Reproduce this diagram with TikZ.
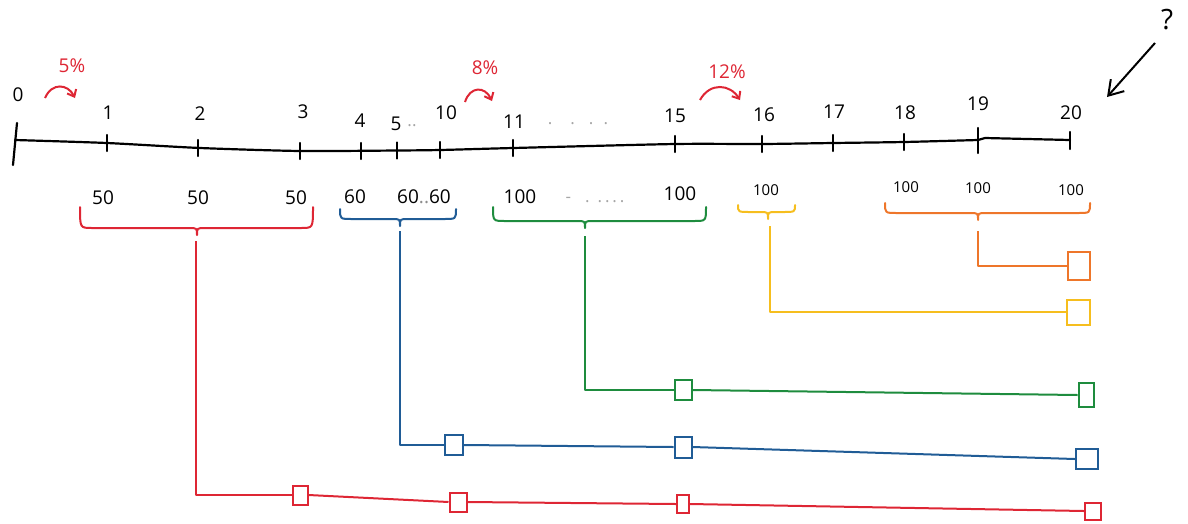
\documentclass[tikz,border=0pt]{standalone}
\usepackage{fontspec}
\setmainfont{Open Sans}
\usetikzlibrary{arrows.meta}
\definecolor{cred}{RGB}{222,38,52}
\definecolor{cblue}{RGB}{32,92,150}
\definecolor{cgreen}{RGB}{30,140,62}
\definecolor{cyellow}{RGB}{246,190,30}
\definecolor{corange}{RGB}{238,118,42}
\newcommand\myhbrace[6]{%
  \draw[#1,line width=2pt,line cap=round,line join=round]
    (#2,#4) .. controls (#2,#5) .. ({#2+12},#5) -- ({#6-8},#5)
    .. controls (#6,#5) .. (#6,{#5+7}) .. controls (#6,#5) .. ({#6+8},#5)
    -- ({#3-12},#5) .. controls (#3,#5) .. (#3,#4);}
\tikzset{
  lbl/.style={font=\fontsize{19}{22}\selectfont, inner sep=0pt},
  sml/.style={font=\fontsize{15}{18}\selectfont, inner sep=0pt},
  pct/.style={font=\fontsize{19}{22}\selectfont, text=cred, inner sep=0pt},
  faint/.style={font=\fontsize{17}{20}\selectfont, text=black!35, inner sep=0pt},
  tl/.style={line width=2.2pt, line cap=round, line join=round},
  conn/.style={line width=2pt, line join=round},
  boxn/.style={draw=#1, line width=2pt, rectangle, inner sep=0pt, fill=white},
  curv/.style={cred, line width=2pt, -{Straight Barb[length=6pt,width=10pt]}},
}
\begin{document}
\begin{tikzpicture}[x=1pt,y=-1pt]
\useasboundingbox (0,0) rectangle (1188,523);

% timeline
\draw[tl] plot[smooth,tension=0.4] coordinates {(15,140) (107,143) (200,148) (300,151) (397,150.5) (440,150) (513,148) (675,144) (762,144) (833,143) (904,142) (978,140)}
  -- (985,138) -- (1070,140);
\draw[tl] (17,123) -- (13,165);
\foreach \x/\y in {107/143,198/148,300/151,361/151,397/150.5,440/150,513/148,675/144,762/144,833/143,904/142}
  \draw[tl] (\x,{\y-8}) -- (\x,{\y+8});
\draw[tl] (978,128) -- (978,153);
\draw[tl] (1070,132) -- (1070,149);

% tick labels
\node[lbl] (t0) at (18,95) {0};
\node[lbl] (t1) at (108,113) {1};
\node[lbl] (t2) at (200,114) {2};
\node[lbl] (t3) at (303,112) {3};
\node[lbl] (t4) at (360,121) {4};
\node[lbl] (t5) at (396,124) {5};
\node[faint] (t5d) at (412,126) {..};
\node[lbl] (t10) at (446,113) {10};
\node[lbl] (t11) at (514,122) {11};
\node[faint] (tdots) at (578,124) {.\hspace{18pt}.\hspace{14pt}.\hspace{10pt}.};
\node[lbl] (t15) at (675,116) {15};
\node[lbl] (t16) at (764,115) {16};
\node[lbl] (t17) at (834,112) {17};
\node[lbl] (t18) at (905,113) {18};
\node[lbl] (t19) at (978,104) {19};
\node[lbl] (t20) at (1071,113) {20};

% percentages
\node[pct] (p5) at (72,66) {5\%};
\draw[curv] (45,98) .. controls (52,82) and (68,84) .. (75,98);
\node[pct] (p8) at (485,68) {8\%};
\draw[curv] (465,102) .. controls (470,86) and (485,86) .. (492,101);
\node[pct] (p12) at (727,72) {12\%};
\draw[curv] (700,100) .. controls (710,82) and (730,84) .. (740,100);

% question mark
\node[font=\fontsize{28}{32}\selectfont, inner sep=0pt] (q) at (1167,20) {?};
\coordinate (qs) at (1155,43);
\coordinate (qe) at (1107,97);
\draw[line width=2pt, -{Straight Barb[length=14pt,width=18pt]}] (qs) -- (qe);

% values
\node[lbl] (v1) at (103,198) {50};
\node[lbl] (v2) at (198,198) {50};
\node[lbl] (v3) at (296,198) {50};
\node[lbl] (v4) at (355,197) {60};
\node[lbl] (v5) at (424,197) {60\textcolor{black!45}{..}60};
\node[lbl] (v6) at (520,197) {100};
\node[faint] (v6d) at (595,200) {-\hspace{14pt}.\hspace{8pt}.\,.\,.\,.};
\node[lbl] (v7) at (680,194) {100};
\node[sml] (v8) at (766,190) {100};
\node[sml] (v9) at (906,187) {100};
\node[sml] (v10) at (978,188) {100};
\node[sml] (v11) at (1071,190) {100};

% braces
\myhbrace{cred}{80}{313}{207}{228}{197}
\myhbrace{cblue}{340}{456}{209}{219}{400}
\myhbrace{cgreen}{493}{706}{207}{221}{585}
\myhbrace{cyellow}{738}{795}{205}{212}{768}
\myhbrace{corange}{885}{1090}{203}{213}{978}

\coordinate (rb) at (196,241);
\coordinate (bb) at (400,231);
\coordinate (gb) at (585,236);
\coordinate (yb) at (770,226);
\coordinate (ob) at (978,231);

% boxes
\node[boxn=cred, minimum width=15pt, minimum height=19pt] (r1) at (300,495) {};
\node[boxn=cred, minimum width=17pt, minimum height=19pt] (r2) at (458,502) {};
\node[boxn=cred, minimum width=12pt, minimum height=18pt] (r3) at (683,504) {};
\node[boxn=cred, minimum width=16pt, minimum height=17pt] (r4) at (1093,511) {};
\node[boxn=cblue, minimum width=18pt, minimum height=20pt] (b1) at (454,445) {};
\node[boxn=cblue, minimum width=17pt, minimum height=21pt] (b2) at (683,447) {};
\node[boxn=cblue, minimum width=22pt, minimum height=20pt] (b3) at (1087,459) {};
\node[boxn=cgreen, minimum width=17pt, minimum height=20pt] (g1) at (683,390) {};
\node[boxn=cgreen, minimum width=15pt, minimum height=24pt] (g2) at (1086,395) {};
\node[boxn=cyellow, minimum width=23pt, minimum height=25pt] (y1) at (1078,312) {};
\node[boxn=corange, minimum width=22pt, minimum height=28pt] (o1) at (1079,266) {};

% connectors
\draw[conn,cred] (rb) |- (r1.west);
\draw[conn,cred] (r1.east) -- (r2.west);
\draw[conn,cred] (r2.east) -- (r3.west);
\draw[conn,cred] (r3.east) -- (r4.west);
\draw[conn,cblue] (bb) |- (b1.west);
\draw[conn,cblue] (b1.east) -- (b2.west);
\draw[conn,cblue] (b2.east) -- (b3.west);
\draw[conn,cgreen] (gb) |- (g1.west);
\draw[conn,cgreen] (g1.east) -- (g2.west);
\draw[conn,cyellow] (yb) |- (y1.west);
\draw[conn,corange] (ob) |- (o1.west);
\end{tikzpicture}
\end{document}
